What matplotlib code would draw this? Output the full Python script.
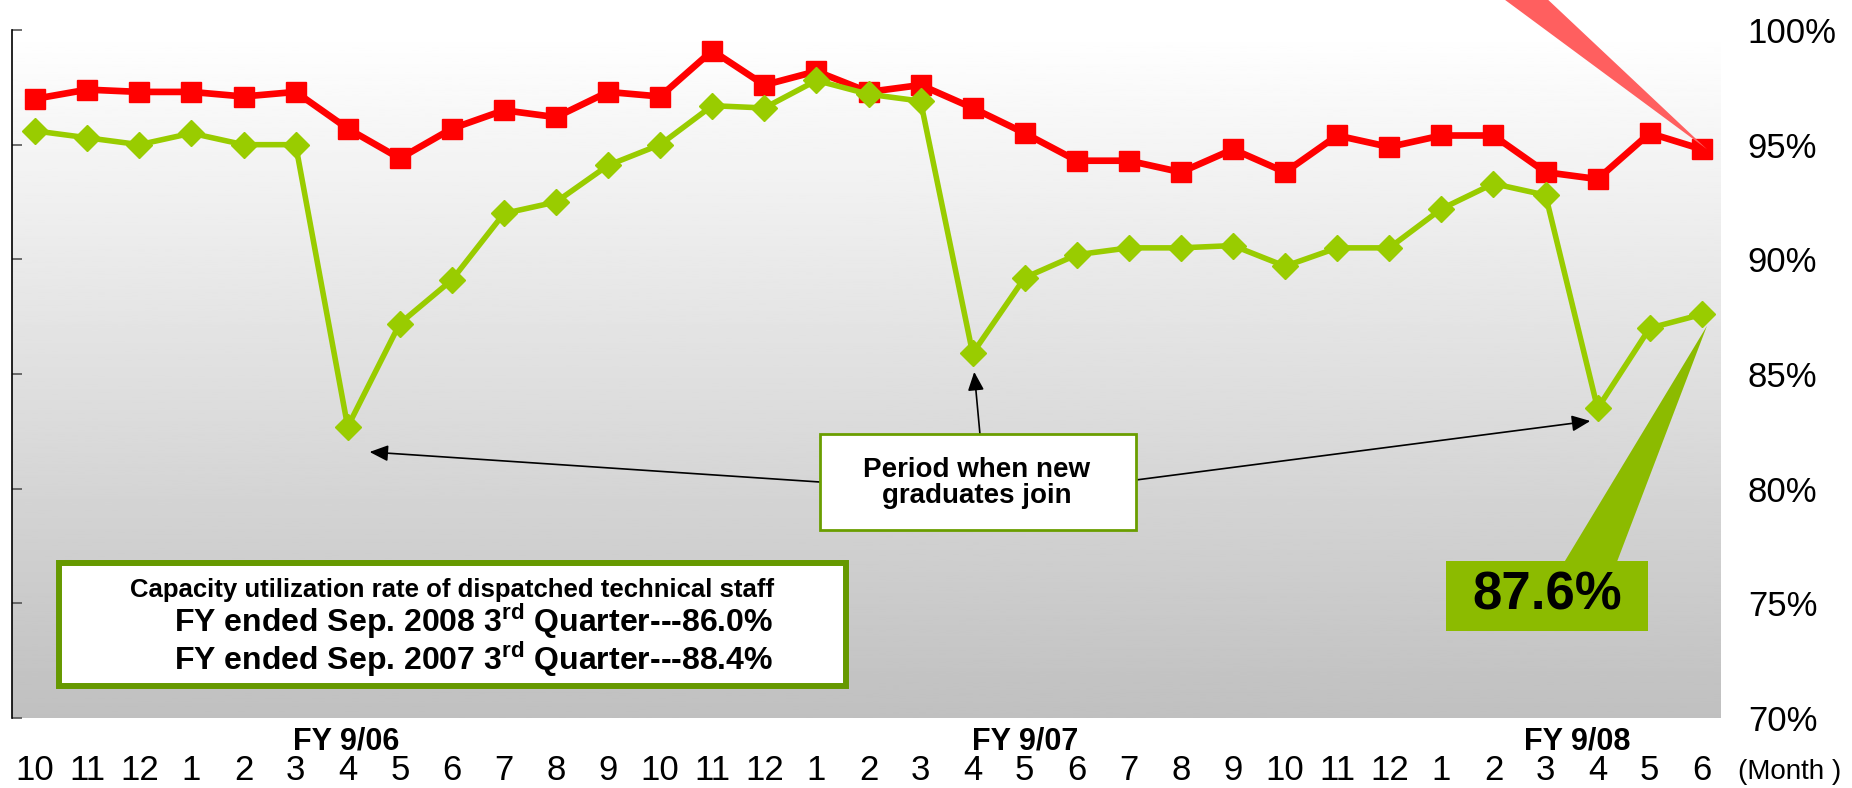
import numpy as np
import matplotlib.pyplot as plt
from matplotlib.patches import Rectangle, Polygon
import matplotlib.transforms as mtransforms

plt.rcParams['font.family'] = ['Liberation Sans', 'DejaVu Sans']
plt.rcParams['mathtext.fontset'] = 'custom'
plt.rcParams['mathtext.rm'] = 'Liberation Sans'
plt.rcParams['mathtext.bf'] = 'Liberation Sans:bold'

# monthly utilization rates (%), Oct 2005 .. Jun 2008
months = ['10', '11', '12', '1', '2', '3', '4', '5', '6', '7', '8', '9',
          '10', '11', '12', '1', '2', '3', '4', '5', '6', '7', '8', '9',
          '10', '11', '12', '1', '2', '3', '4', '5', '6']
overall = [97.0, 97.4, 97.3, 97.3, 97.1, 97.3, 95.7, 94.4, 95.7, 96.5, 96.2, 97.3,
           97.1, 99.1, 97.6, 98.2, 97.3, 97.6, 96.6, 95.5, 94.3, 94.3, 93.8, 94.8,
           93.8, 95.4, 94.9, 95.4, 95.4, 93.8, 93.5, 95.5, 94.8]
technical = [95.6, 95.3, 95.0, 95.5, 95.0, 95.0, 82.7, 87.2, 89.1, 92.0, 92.5, 94.1,
             95.0, 96.7, 96.6, 97.8, 97.2, 96.9, 85.9, 89.2, 90.2, 90.5, 90.5, 90.6,
             89.7, 90.5, 90.5, 92.2, 93.3, 92.8, 83.5, 87.0, 87.6]
fy_labels = ['FY 9/06', 'FY 9/07', 'FY 9/08']
fy_pos = [5.97, 19.0, 29.6]
yticks = [70, 75, 80, 85, 90, 95, 100]

x = np.arange(len(months))

fig = plt.figure(figsize=(18.52, 7.88), dpi=100)
ax = fig.add_axes([11.8 / 1852, 70 / 788, (1720 - 11.8) / 1852, 688 / 788])
ax.set_xlim(-0.45, 32.35)
ax.set_ylim(70, 100)

# grey gradient behind the plot
grad = np.linspace(1.0, 0.753, 256).reshape(-1, 1)
ax.imshow(grad, cmap='gray', vmin=0, vmax=1, aspect='auto',
          extent=[-0.45, 32.35, 70, 100], zorder=0)

ax.plot(x, overall, color='#ff0000', lw=4.8, marker='s', ms=15, zorder=3)
ax.plot(x, technical, color='#99cc00', lw=4.0, marker='D', ms=13, zorder=4)

for s in ['top', 'right', 'bottom']:
    ax.spines[s].set_visible(False)
ax.spines['left'].set_color('black')
ax.spines['left'].set_linewidth(1.2)

ax.set_yticks(yticks)
ax.set_yticklabels([f'{v}%' for v in yticks])
ax.tick_params(axis='y', direction='in', length=7, width=1.2, color='#555555',
               left=True, right=False, labelleft=False, labelright=True,
               pad=20, labelsize=25)
ax.set_xticks(x)
ax.set_xticklabels(months)
ax.tick_params(axis='x', length=0, pad=26, labelsize=25)

blend = mtransforms.blended_transform_factory(ax.transData, ax.transAxes)
for lab, pos in zip(fy_labels, fy_pos):
    ax.text(pos, -0.034, lab, transform=blend, ha='center', va='center',
            fontsize=22, fontweight='bold')
ax.text(1738 / 1852, 1 - 772 / 788, '(Month )', transform=fig.transFigure,
        ha='left', va='center', fontsize=20)

# callout wedges
ax.add_patch(Polygon([[28.17, 101.4], [29.01, 101.4], [32.1, 94.8]], closed=True,
                     facecolor='#ff5f5f', edgecolor='none', clip_on=False, zorder=5))
ax.add_patch(Polygon([[29.36, 76.8], [30.37, 76.8], [32.1, 87.1]], closed=True,
                     facecolor='#8cbb00', edgecolor='none', zorder=5))
ax.add_patch(Rectangle((27.09, 73.79), 3.88, 3.05, facecolor='#8cbb00',
                       edgecolor='none', zorder=5))
ax.text(29.03, 75.35, '87.6%', ha='center', va='center', fontsize=38,
        fontweight='bold', zorder=6)

# new graduates note
arrow = dict(arrowstyle='-|>,head_length=0.8,head_width=0.35', color='black',
             lw=1.2, mutation_scale=14, shrinkA=0, shrinkB=0)
ax.annotate('', xy=(6.42, 81.6), xytext=(15.07, 80.29), arrowprops=arrow, zorder=5)
ax.annotate('', xy=(18.03, 85.09), xytext=(18.14, 82.38), arrowprops=arrow, zorder=5)
ax.annotate('', xy=(29.86, 82.95), xytext=(21.14, 80.38), arrowprops=arrow, zorder=5)
ax.add_patch(Rectangle((15.07, 78.19), 6.07, 4.19, facecolor='white',
                       edgecolor='#6a9e00', lw=2, zorder=6))
ax.text(18.08, 80.24, 'Period when new\ngraduates join', ha='center', va='center',
        fontsize=20, fontweight='bold', linespacing=1.0, zorder=7)

# summary box
ax.add_patch(Rectangle((0.453, 71.39), 15.12, 5.37, facecolor='white',
                       edgecolor='#669900', lw=4.3, zorder=6))
ax.text(8.0, 75.6, 'Capacity utilization rate of dispatched technical staff',
        ha='center', va='center', fontsize=18.5, fontweight='bold', zorder=7)
ax.text(2.66, 73.38,
        'FY ended Sep. 2008 3$^{\\mathbf{rd}}$ Quarter---86.0%\n'
        'FY ended Sep. 2007 3$^{\\mathbf{rd}}$ Quarter---88.4%',
        ha='left', va='center', multialignment='left', linespacing=0.95,
        fontsize=23, fontweight='bold', zorder=7)

fig.savefig('out.png', dpi=100)
